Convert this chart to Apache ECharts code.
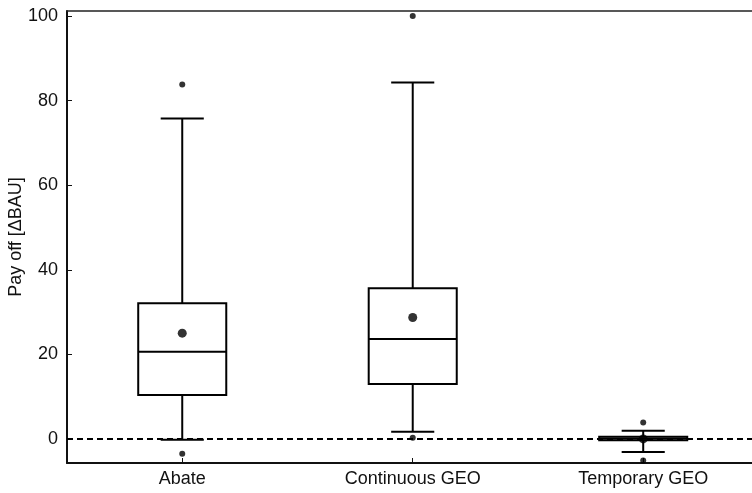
<!DOCTYPE html>
<html>
<head>
<meta charset="utf-8">
<script src="https://cdn.jsdelivr.net/npm/echarts@6/dist/echarts.min.js"></script>
<style>
html,body{margin:0;padding:0;background:#fff;}
#chart{width:752px;height:493px;}
</style>
</head>
<body>
<div id="chart"></div>
<script>
// ---- data ----
const categories = ['Abate', 'Continuous GEO', 'Temporary GEO'];
const whiskerLow = [-0.2, 1.7, -3.1];
const q1 = [10.4, 13.0, -0.3];
const median = [20.6, 23.6, 0.1];
const q3 = [32.1, 35.6, 0.5];
const whiskerHigh = [75.8, 84.3, 1.9];
const means = [25.0, 28.7, 0.0];
const outlierCat = [0, 0, 1, 1, 2, 2];
const outlierVal = [83.8, -3.5, 100.0, 0.3, 3.9, -5.1];
const yTicks = [0, 20, 40, 60, 80, 100];
const xTicks = [0, 1, 2];
const referenceLevel = 0;

// axis extents (the right border of the original plot is cut off by the image edge)
const XMIN = -0.5, XMAX = 2.472;
const YMIN = -5.7, YMAX = 101.2;

const boxData = categories.map((c, i) => [i, whiskerLow[i], q1[i], median[i], q3[i], whiskerHigh[i]]);
const meanData = categories.map((c, i) => [i, means[i]]);
const outlierData = outlierCat.map((c, i) => [c, outlierVal[i]]);
const refLineData = [[XMIN, referenceLevel], [XMAX, referenceLevel]];

const chart = echarts.init(document.getElementById('chart'), null, {renderer: 'canvas'});
const FONT = '"Liberation Sans", Arial, Helvetica, sans-serif';
const INK = '#000';
const FS = 18;

function renderBox(params, api) {
  const x = api.value(0);
  const lo = api.coord([x, api.value(1)]);
  const a = api.coord([x, api.value(2)]);
  const m = api.coord([x, api.value(3)]);
  const b = api.coord([x, api.value(4)]);
  const hi = api.coord([x, api.value(5)]);
  const unit = api.size([1, 0])[0];
  const bw = unit * 0.382;
  const cw = unit * 0.187;
  const cx = m[0];
  const st = {stroke: INK, lineWidth: 2, fill: null};
  return {
    type: 'group',
    children: [
      {type: 'line', shape: {x1: cx, y1: b[1], x2: cx, y2: hi[1]}, style: st},
      {type: 'line', shape: {x1: cx, y1: a[1], x2: cx, y2: lo[1]}, style: st},
      {type: 'line', shape: {x1: cx - cw / 2, y1: hi[1], x2: cx + cw / 2, y2: hi[1]}, style: st},
      {type: 'line', shape: {x1: cx - cw / 2, y1: lo[1], x2: cx + cw / 2, y2: lo[1]}, style: st},
      {type: 'rect', shape: {x: cx - bw / 2, y: b[1], width: bw, height: a[1] - b[1]}, style: {stroke: INK, lineWidth: 2, fill: 'rgba(0,0,0,0)'}},
      {type: 'line', shape: {x1: cx - bw / 2, y1: m[1], x2: cx + bw / 2, y2: m[1]}, style: st}
    ]
  };
}

const option = {
  animation: false,
  backgroundColor: '#fff',
  grid: {left: 67, right: 0, top: 11, bottom: 30, containLabel: false, outerBoundsMode: 'none'},
  xAxis: [{
    type: 'value',
    min: XMIN, max: XMAX,
    position: 'bottom',
    axisLine: {show: true, onZero: false, lineStyle: {color: '#111', width: 2}},
    axisTick: {show: true, inside: true, length: 5, customValues: xTicks, lineStyle: {color: '#111', width: 1}},
    axisLabel: {
      color: '#111', fontFamily: FONT, fontSize: FS, margin: 7,
      customValues: xTicks,
      formatter: v => categories[Math.round(v)] || ''
    },
    splitLine: {show: false}
  }, {
    type: 'value',
    min: XMIN, max: XMAX,
    position: 'top',
    axisLine: {show: true, onZero: false, lineStyle: {color: '#222', width: 1.5}},
    axisTick: {show: false},
    axisLabel: {show: false},
    splitLine: {show: false}
  }],
  yAxis: [{
    type: 'value',
    min: YMIN, max: YMAX,
    name: 'Pay off [\u0394BAU]',
    nameLocation: 'middle',
    nameGap: 42,
    nameMoveOverlap: false,
    nameTextStyle: {color: '#111', fontFamily: FONT, fontSize: FS},
    axisLine: {show: true, onZero: false, lineStyle: {color: '#111', width: 2}},
    axisTick: {show: true, inside: true, length: 5, customValues: yTicks, lineStyle: {color: '#111', width: 1}},
    axisLabel: {color: '#111', fontFamily: FONT, fontSize: FS, margin: 9, customValues: yTicks},
    splitLine: {show: false}
  }],
  series: [{
    type: 'line',
    name: 'zero',
    data: refLineData,
    symbol: 'none',
    silent: true,
    lineStyle: {color: INK, width: 2, type: [6, 4]},
    z: 2
  }, {
    type: 'custom',
    name: 'box',
    renderItem: renderBox,
    data: boxData,
    encode: {x: 0, y: [1, 2, 3, 4, 5]},
    z: 3
  }, {
    type: 'scatter',
    name: 'mean',
    data: meanData,
    symbol: 'circle',
    symbolSize: 9,
    itemStyle: {color: INK},
    z: 5
  }, {
    type: 'scatter',
    name: 'outliers',
    data: outlierData,
    symbol: 'circle',
    symbolSize: 6,
    itemStyle: {color: INK},
    z: 5
  }]
};
chart.setOption(option);
</script>
</body>
</html>
